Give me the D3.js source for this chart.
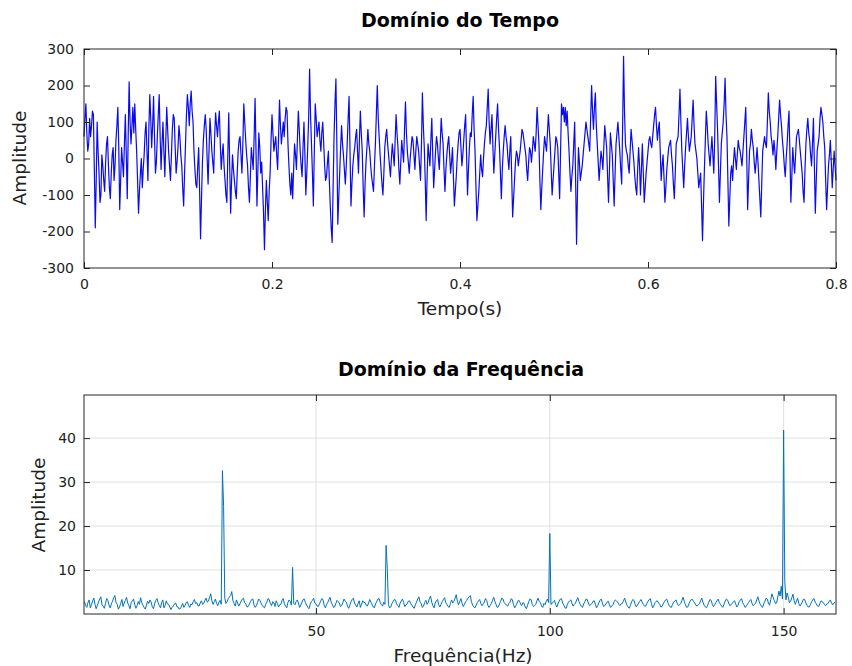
<!DOCTYPE html>
<html><head><meta charset="utf-8">
<script src="https://cdn.jsdelivr.net/npm/d3@7"></script>
<style>
body{margin:0;background:#fff;}
svg text{font-family:"DejaVu Sans",Verdana,sans-serif;}
</style>
</head><body><svg id="c" width="852" height="666"></svg>
<script>
// ---------- data ----------
const timeTitle = "Domínio do Tempo";
const timeXLabel = "Tempo(s)";
const yLabel = "Amplitude";
const timeStep = 0.001;
const timeAmplitude = [
60,110,150,70,20,40,110,60,90,130,120,-30,-190,-60,100,20,-40,-120,-100,10,-20,-60,-90,-10,40,60,-20,-80,-110,-40,10,30,-60,-20,50,90,140,30,-140,-60,
30,-10,-50,40,120,10,-110,60,210,100,40,90,140,70,150,80,20,-60,-150,-90,-40,0,-80,-30,10,70,100,20,-60,80,175,110,30,90,170,60,-40,-10,60,120,
175,60,-30,40,100,20,-50,50,140,80,20,-20,-60,10,80,120,110,30,-40,-10,30,90,60,10,-20,-80,-130,-40,40,120,175,140,90,150,185,130,100,20,-30,-70,
-80,-20,30,-90,-220,-110,-10,50,90,120,80,0,-70,20,110,70,20,-10,-40,60,125,90,60,100,130,40,-30,10,40,-20,-60,-100,-120,10,125,-20,-150,-60,10,-30,
-60,-90,-110,-40,20,50,60,10,-40,40,150,100,50,10,-20,-80,-120,-50,30,0,-30,60,165,20,-130,-30,70,30,-40,-10,-80,-150,-250,-140,-60,-120,-170,-90,-40,50,
120,70,20,40,60,10,-30,60,160,90,40,70,100,60,110,140,130,40,-20,-70,-100,-40,-110,-30,40,10,-30,50,130,80,20,-20,-50,30,100,10,-100,-40,30,110,
245,120,40,-40,-130,20,150,110,60,80,100,50,20,70,100,40,-20,-60,-50,-10,20,-60,-130,-190,-230,-80,60,150,218,40,-180,-110,-40,30,90,40,10,-30,-70,-20,
40,110,170,20,-130,-70,-20,10,30,60,80,20,-40,50,130,70,20,-80,-160,-70,-10,30,80,40,20,-20,-50,-70,-90,-20,40,120,200,110,60,10,-30,-70,-100,-40,
30,60,80,40,10,-20,-50,0,40,10,-20,50,120,70,30,-30,-70,-10,50,20,-10,80,155,70,20,-10,-40,0,30,60,50,10,-30,20,60,40,20,-20,-60,40,
180,90,30,-60,-170,-50,40,10,-20,50,110,10,-80,-30,20,60,40,0,-30,40,110,70,40,-30,-90,-30,10,40,60,10,-40,-10,30,-50,-130,-90,-50,0,40,70,
80,30,-20,10,50,90,120,10,-100,-30,30,70,60,120,170,80,20,-80,-170,-130,-90,-40,10,-30,-50,0,40,70,90,140,190,100,40,80,120,30,-40,10,60,110,
150,80,30,-40,-110,-30,20,60,90,60,40,0,-30,20,60,-50,-160,-110,-60,-10,20,10,-20,0,20,50,80,70,50,30,10,-30,-60,-10,30,20,-10,20,60,40,
20,70,140,90,40,-60,-140,-80,-30,20,60,40,20,70,120,80,40,-30,-100,-60,-20,20,60,50,30,-40,-110,20,150,120,140,100,140,90,130,70,20,-40,-90,-50,
-20,40,100,-60,-235,-90,30,-10,-60,-40,-20,10,40,70,100,80,60,40,20,110,200,130,80,140,180,90,40,-10,-60,-20,20,0,-30,30,90,60,30,-50,-120,-30,
70,40,10,-60,-130,-40,40,70,100,60,20,-30,-70,90,280,130,40,20,10,-20,-40,20,80,50,20,-10,-50,-80,-100,-30,30,-20,-100,-30,40,-40,-120,-80,-40,-10,
20,50,60,40,30,60,90,120,140,90,50,80,100,20,-60,-20,10,-50,-120,-80,-30,0,30,40,50,10,-20,-70,-110,-40,40,50,60,120,190,100,20,-30,-80,-20,
30,70,110,60,20,40,60,110,160,90,40,20,0,-40,-80,-60,-40,-130,-225,-120,-30,50,130,90,40,10,-20,20,60,10,-40,60,225,150,80,-20,-120,-40,40,70,
100,150,220,120,60,-60,-185,-110,-40,-20,-60,-10,30,0,-30,10,50,30,20,0,-20,20,60,100,140,10,-140,-60,20,40,80,50,30,-10,-40,-10,30,-10,-60,-110,
-160,-70,20,40,60,40,30,100,180,130,100,60,40,10,50,20,-30,20,60,110,160,120,90,50,20,-20,-50,0,40,90,130,10,-120,-50,30,-10,-40,10,60,70,
80,50,20,-10,-40,-90,-120,-30,40,80,110,70,50,10,-20,40,110,-20,-150,-60,20,40,60,110,140,120,100,60,30,-60,-140,-80,-20,10,50,-10,-80,-30,20,-20,
-60
];
const timeXTicks = [0, 0.2, 0.4, 0.6, 0.8];
const timeYTicks = [-300, -200, -100, 0, 100, 200, 300];

const freqTitle = "Domínio da Frequência";
const freqXLabel = "Frequência(Hz)";
const freqStart = 0.5;
const freqStep = 0.25;
const freqAmplitude = [
2.8,1.9,1.5,2.6,3.2,1.4,2.1,3.0,3.6,2.2,1.2,1.9,2.7,3.4,3.9,2.1,1.8,1.3,2.4,3.5,3.1,2.0,1.4,2.3,2.9,3.7,4.2,2.6,2.2,1.1,1.6,2.4,3.3,1.7,2.5,3.1,3.8,2.5,1.9,1.2,
2.6,3.0,3.4,2.1,1.3,1.9,2.8,2.2,3.7,2.6,2.0,1.5,1.1,2.0,2.9,2.4,3.2,2.7,1.7,1.2,2.3,3.1,3.5,2.6,1.9,1.4,2.6,3.2,1.4,1.9,3.0,2.3,2.2,1.6,1.0,1.5,1.8,2.3,2.5,1.7,
1.6,1.1,1.2,1.8,2.4,1.5,1.9,2.6,2.8,2.0,1.5,2.3,2.1,2.8,3.3,2.4,2.6,1.9,1.8,2.5,3.0,2.2,2.4,3.1,3.6,2.7,2.9,3.8,4.6,3.0,2.2,2.8,3.4,2.4,1.9,2.7,3.1,2.2,32.6,24.5,
3.6,2.4,2.8,3.5,3.9,4.2,5.1,3.0,2.4,1.8,3.2,2.5,1.8,2.3,2.9,3.4,3.6,2.6,2.3,1.6,1.7,2.2,2.8,3.3,3.4,2.1,1.5,1.9,2.6,3.4,3.1,2.5,2.0,1.6,1.4,2.2,2.7,3.5,3.3,2.4,
1.9,2.8,2.5,1.7,3.0,2.4,1.6,2.1,2.2,3.1,3.5,2.3,1.8,1.4,2.6,3.2,2.9,2.0,10.6,2.4,2.1,2.8,3.2,2.5,1.5,2.0,2.7,3.3,3.4,2.6,2.0,1.5,1.2,2.1,2.8,3.1,3.6,2.5,2.3,1.8,
1.7,2.3,2.9,3.5,3.3,2.0,1.4,2.1,2.6,3.2,3.8,2.7,2.2,1.5,1.6,2.4,3.1,2.8,2.5,1.7,1.9,2.6,3.4,2.9,2.7,1.8,1.3,2.0,2.8,3.3,3.6,2.5,2.0,1.6,2.4,3.0,1.5,2.2,3.0,2.6,
2.6,2.0,1.8,2.5,3.3,2.7,2.2,1.6,1.4,2.3,2.9,3.4,3.5,2.6,2.1,1.8,2.7,2.2,15.6,10.4,2.1,1.4,1.6,2.4,2.8,3.3,3.2,2.3,1.9,1.5,2.5,3.0,3.4,2.6,1.7,2.1,2.3,2.9,3.0,2.4,
2.0,1.6,1.3,2.1,2.7,3.4,3.9,2.8,2.4,1.5,1.8,2.6,3.1,2.2,2.6,3.5,4.1,2.7,1.9,1.4,2.5,3.0,3.3,2.1,1.6,2.2,2.8,3.3,3.7,2.6,2.2,1.7,1.5,2.4,3.2,2.5,2.9,3.6,4.4,2.8,
2.1,2.9,3.5,2.4,1.7,2.2,2.8,3.1,3.6,3.9,4.2,2.8,2.0,1.6,1.4,2.0,2.6,3.0,3.3,2.4,1.9,2.3,2.7,3.5,3.1,2.0,1.5,1.9,2.4,3.1,3.8,2.9,2.2,1.5,1.6,2.3,2.9,3.6,3.4,2.6,
2.3,2.0,1.8,2.4,2.7,3.5,3.2,2.1,1.4,1.9,2.5,3.1,3.0,2.3,1.9,2.6,2.4,1.6,1.2,2.0,2.8,3.4,3.3,2.2,1.7,1.9,2.2,3.0,3.6,2.8,2.6,1.8,1.5,2.4,2.1,2.9,3.4,2.6,18.3,2.2,
2.4,2.8,3.1,2.2,1.6,2.3,2.9,3.4,3.5,2.5,2.0,1.4,1.3,2.1,2.7,3.0,3.2,2.4,1.8,2.2,2.5,3.2,3.7,2.8,2.2,1.7,1.5,2.3,2.8,3.4,3.3,2.5,1.9,2.1,2.4,2.9,3.0,2.2,1.4,1.9,
2.6,3.1,3.4,2.5,1.7,1.9,2.3,2.7,2.9,2.1,1.5,1.8,2.1,2.8,3.2,3.0,2.7,2.2,1.9,2.3,2.4,3.0,3.6,2.7,2.0,1.6,1.3,2.0,2.8,3.3,3.1,2.2,1.6,2.0,2.5,2.9,3.3,2.7,2.2,1.8,
1.8,2.4,2.9,3.3,3.5,2.3,1.4,1.9,2.6,2.9,3.0,2.5,2.2,1.6,1.7,2.3,2.8,3.2,3.4,2.6,2.0,1.6,1.5,2.2,2.7,3.0,3.2,2.4,1.9,2.1,2.4,3.1,3.8,2.9,2.1,1.5,1.6,2.3,2.9,3.3,
3.3,2.8,2.5,2.0,1.8,2.1,2.3,3.0,3.6,2.7,2.0,1.6,1.4,2.0,2.7,3.3,3.1,2.2,1.7,2.1,2.6,3.0,3.4,2.6,2.2,1.8,1.5,2.2,2.9,3.4,3.2,2.5,1.9,2.1,2.4,2.8,3.0,2.3,1.6,2.0,
2.8,3.2,3.5,2.6,2.1,1.5,1.7,2.2,2.6,3.0,3.3,2.4,1.9,2.2,2.4,3.2,3.9,2.9,2.2,1.7,1.5,2.3,2.9,3.6,3.4,2.5,2.0,3.3,4.6,3.8,3.1,2.4,2.5,3.9,5.2,4.1,6.3,3.4,41.8,7.4,
3.2,4.8,3.8,2.6,2.9,3.7,4.5,3.0,2.2,2.9,3.6,2.4,1.8,2.2,2.7,3.4,3.3,2.5,2.0,1.6,1.6,2.2,2.8,3.3,3.5,2.7,2.3,1.8,1.7,2.4,3.0,2.8,2.6,2.1,1.9,2.3,2.4,2.9,3.2,2.5,
2.1,2.5,2.7
];
const freqXTicks = [50, 100, 150];
const freqYTicks = [10, 20, 30, 40];

// ---------- drawing ----------
const svg = d3.select("#c");
const L = 84, R = 836;
const axisColor = "#262626";
const fmt = d => String(d);

function styleAxis(g) {
  g.select(".domain").remove();
  g.selectAll(".tick line").attr("stroke", axisColor);
  g.selectAll(".tick text").attr("fill", "#222").style("font-size", "14px");
}

// Top panel
{
  const top = 49, bottom = 268;
  const x = d3.scaleLinear().domain([0, 0.8]).range([L, R]);
  const y = d3.scaleLinear().domain([-300, 300]).range([bottom, top]);
  const pts = timeAmplitude.map((v, i) => [i * timeStep, v]);

  svg.append("path").datum(pts)
    .attr("fill", "none").attr("stroke", "#0a0af0").attr("stroke-width", 1.2)
    .attr("stroke-linejoin", "round")
    .attr("d", d3.line().x(d => x(d[0])).y(d => y(d[1])));

  svg.append("g").attr("transform", `translate(0,${bottom})`)
    .call(d3.axisBottom(x).tickValues(timeXTicks).tickFormat(fmt).tickSizeInner(-6).tickSizeOuter(0).tickPadding(11))
    .call(styleAxis);
  svg.append("g").attr("transform", `translate(0,${top})`)
    .call(d3.axisTop(x).tickValues(timeXTicks).tickFormat("").tickSizeInner(-6).tickSizeOuter(0))
    .call(styleAxis);
  svg.append("g").attr("transform", `translate(${L},0)`)
    .call(d3.axisLeft(y).tickValues(timeYTicks).tickFormat(fmt).tickSizeInner(-6).tickSizeOuter(0).tickPadding(10))
    .call(styleAxis);
  svg.append("g").attr("transform", `translate(${R},0)`)
    .call(d3.axisRight(y).tickValues(timeYTicks).tickFormat("").tickSizeInner(-6).tickSizeOuter(0))
    .call(styleAxis);

  svg.append("rect").attr("x", L).attr("y", top).attr("width", R - L).attr("height", bottom - top)
    .attr("fill", "none").attr("stroke", axisColor).attr("stroke-width", 1);

  svg.append("text").attr("x", 460).attr("y", 27).attr("text-anchor", "middle")
    .style("font-size", "19px").style("font-weight", "bold").attr("fill", "#000").text(timeTitle);
  svg.append("text").attr("x", 460).attr("y", 315).attr("text-anchor", "middle")
    .style("font-size", "18.5px").attr("fill", "#222").text(timeXLabel);
  svg.append("text").attr("transform", `translate(26,158) rotate(-90)`).attr("text-anchor", "middle")
    .style("font-size", "18.5px").attr("fill", "#222").text(yLabel);
}

// Bottom panel
{
  const top = 395, bottom = 614;
  const x = d3.scaleLinear().domain([0.4, 161.2]).range([L, R]);
  const y = d3.scaleLinear().domain([0, 49.8]).range([bottom, top]);
  const pts = freqAmplitude.map((v, i) => [freqStart + i * freqStep, v]);

  const grid = svg.append("g").attr("stroke", "#e0e0e0").attr("stroke-width", 1);
  grid.selectAll("line.gx").data(freqXTicks).join("line").attr("class", "gx")
    .attr("x1", d => x(d)).attr("x2", d => x(d)).attr("y1", top).attr("y2", bottom);
  grid.selectAll("line.gy").data(freqYTicks).join("line").attr("class", "gy")
    .attr("x1", L).attr("x2", R).attr("y1", d => y(d)).attr("y2", d => y(d));

  svg.append("path").datum(pts)
    .attr("fill", "none").attr("stroke", "#0072bd").attr("stroke-width", 1)
    .attr("stroke-linejoin", "round")
    .attr("d", d3.line().x(d => x(d[0])).y(d => y(d[1])));

  svg.append("g").attr("transform", `translate(0,${bottom})`)
    .call(d3.axisBottom(x).tickValues(freqXTicks).tickFormat(fmt).tickSizeInner(-6).tickSizeOuter(0).tickPadding(12))
    .call(styleAxis);
  svg.append("g").attr("transform", `translate(0,${top})`)
    .call(d3.axisTop(x).tickValues(freqXTicks).tickFormat("").tickSizeInner(-6).tickSizeOuter(0))
    .call(styleAxis);
  svg.append("g").attr("transform", `translate(${L},0)`)
    .call(d3.axisLeft(y).tickValues(freqYTicks).tickFormat(fmt).tickSizeInner(-6).tickSizeOuter(0).tickPadding(8))
    .call(styleAxis);
  svg.append("g").attr("transform", `translate(${R},0)`)
    .call(d3.axisRight(y).tickValues(freqYTicks).tickFormat("").tickSizeInner(-6).tickSizeOuter(0))
    .call(styleAxis);

  svg.append("rect").attr("x", L).attr("y", top).attr("width", R - L).attr("height", bottom - top)
    .attr("fill", "none").attr("stroke", axisColor).attr("stroke-width", 1);

  svg.append("text").attr("x", 461).attr("y", 376).attr("text-anchor", "middle")
    .style("font-size", "19px").style("font-weight", "bold").attr("fill", "#000").text(freqTitle);
  svg.append("text").attr("x", 463).attr("y", 662).attr("text-anchor", "middle")
    .style("font-size", "18.5px").attr("fill", "#222").text(freqXLabel);
  svg.append("text").attr("transform", `translate(45,505) rotate(-90)`).attr("text-anchor", "middle")
    .style("font-size", "18.5px").attr("fill", "#222").text(yLabel);
}
</script>
</body></html>
